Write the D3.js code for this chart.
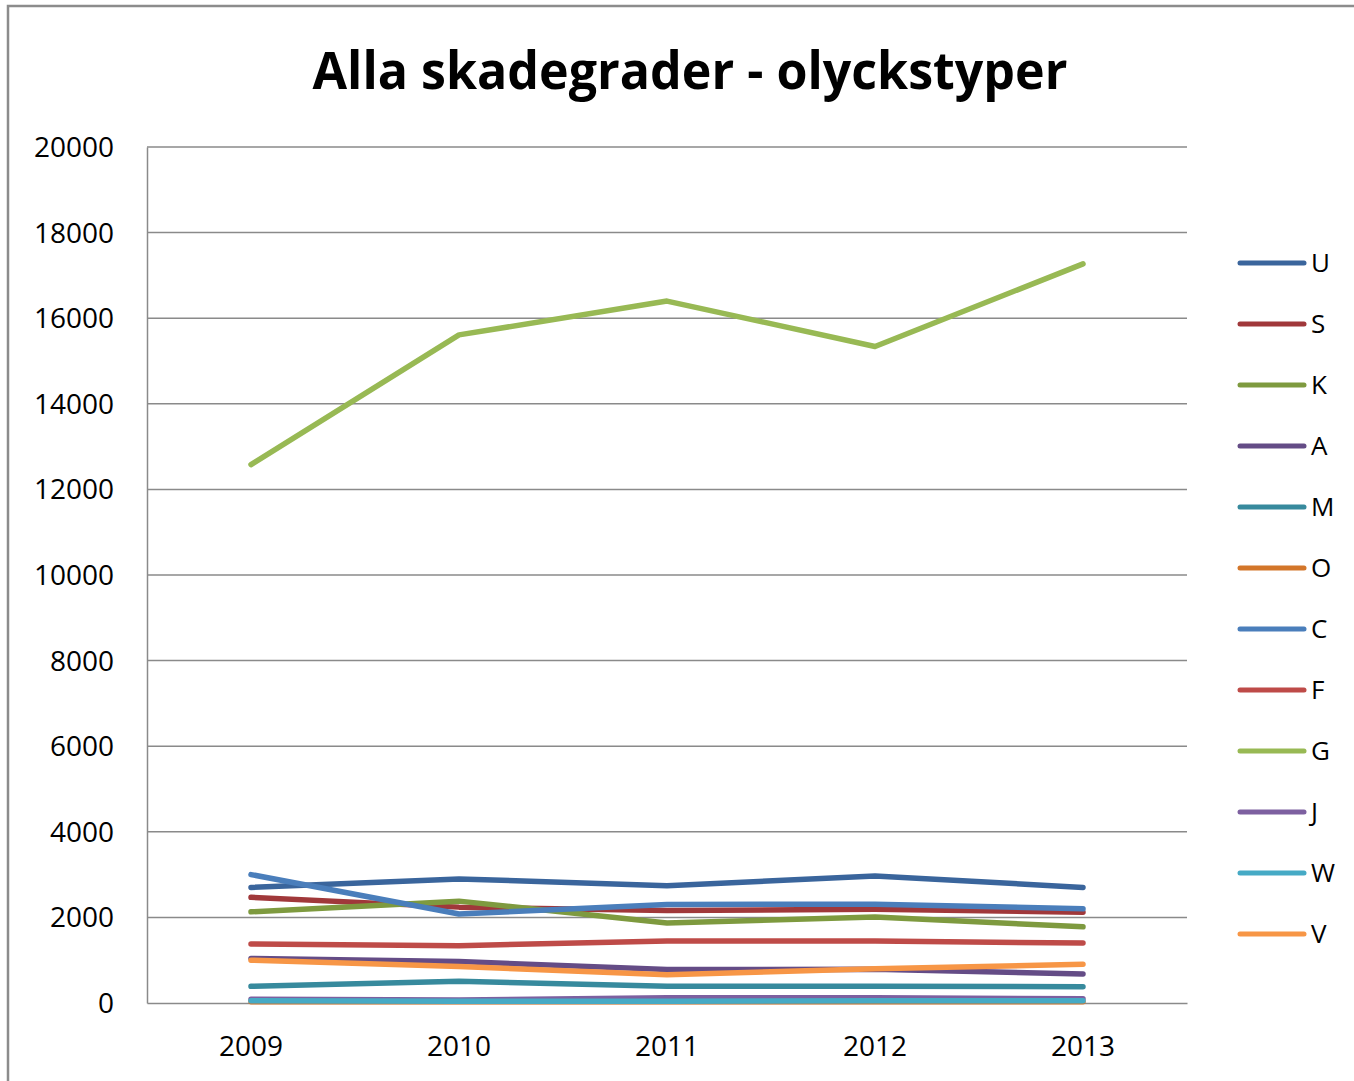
<!DOCTYPE html>
<html><head><meta charset="utf-8">
<script src="https://cdn.jsdelivr.net/npm/d3@7"></script>
<style>
html,body{margin:0;padding:0;background:#fff;}
svg{display:block;}
text{font-family:"Open Sans","Liberation Sans",sans-serif;fill:#000;}
</style></head>
<body>
<svg id="chart" width="1354" height="1081"></svg>
<script>
const title = "Alla skadegrader - olyckstyper";
const years = ["2009","2010","2011","2012","2013"];
const yTicks = [0,2000,4000,6000,8000,10000,12000,14000,16000,18000,20000];
const seriesNames = ["U","S","K","A","M","O","C","F","G","J","W","V"];
const seriesColors = ["#3A659C","#A0383A","#7E9A3F","#644C86","#378A9D","#D3762A","#4A7EBB","#BE4B48","#98B954","#7D60A0","#46AAC5","#F79646"];
const U = [2700, 2900, 2740, 2970, 2700];
const S = [2470, 2240, 2160, 2190, 2120];
const K = [2130, 2380, 1870, 2010, 1780];
const A = [1040, 970, 780, 790, 680];
const M = [390, 510, 390, 390, 380];
const O = [30, 30, 30, 30, 30];
const C = [3000, 2080, 2300, 2310, 2200];
const F = [1380, 1340, 1450, 1450, 1400];
const G = [12580, 15610, 16400, 15340, 17270];
const J = [90, 70, 120, 120, 100];
const W = [50, 40, 40, 50, 50];
const V = [1000, 850, 660, 800, 905];
const seriesValues = [U,S,K,A,M,O,C,F,G,J,W,V];

const svg = d3.select("#chart");
svg.append("rect").attr("x",0).attr("y",0).attr("width",1354).attr("height",1081).attr("fill","#fff");
svg.append("rect").attr("x",8).attr("y",6).attr("width",1370).attr("height",1100)
  .attr("fill","none").attr("stroke","#8c8c8c").attr("stroke-width",2.5);

const plot = {left:147, top:147, right:1187, bottom:1003};
const x = d3.scaleBand().domain(years).range([plot.left, plot.right]);
const y = d3.scaleLinear().domain([0,20000]).range([plot.bottom, plot.top]);

// title
const t = svg.append("text").attr("x",690).attr("y",89).attr("text-anchor","middle")
  .style("font-weight","bold").style("font-size","52px").text(title);
t.attr("textLength",755).attr("lengthAdjust","spacingAndGlyphs");

// gridlines
svg.append("g").selectAll("line").data(yTicks.filter(d=>d>0)).join("line")
  .attr("x1",plot.left).attr("x2",plot.right)
  .attr("y1",d=>y(d)).attr("y2",d=>y(d))
  .attr("stroke","#8a8a8a").attr("stroke-width",1.5);

// y axis
const yAxis = svg.append("g").attr("transform",`translate(${plot.left},0)`)
  .call(d3.axisLeft(y).tickValues(yTicks).tickSize(0).tickPadding(33).tickFormat(d3.format("d")));
yAxis.select(".domain").attr("stroke","#8a8a8a").attr("stroke-width",1.5);
yAxis.selectAll("text").style("font-size","28px").style("font-family","'Open Sans','Liberation Sans',sans-serif").attr("fill","#000").attr("dy","0.34em");

// x axis
const xAxis = svg.append("g").attr("transform",`translate(0,${plot.bottom})`)
  .call(d3.axisBottom(x).tickSize(0).tickPadding(33));
xAxis.select(".domain").attr("stroke","#8a8a8a").attr("stroke-width",1.5);
xAxis.selectAll("text").style("font-size","28px").style("font-family","'Open Sans','Liberation Sans',sans-serif").attr("fill","#000");

// lines
const line = d3.line().x((d,i)=>x(years[i])+x.bandwidth()/2).y(d=>y(d));
svg.append("g").selectAll("path").data(seriesValues).join("path")
  .attr("d",d=>line(d)).attr("fill","none")
  .attr("stroke",(d,i)=>seriesColors[i]).attr("stroke-width",5.5)
  .attr("stroke-linecap","round").attr("stroke-linejoin","round");

// legend
const leg = svg.append("g").selectAll("g").data(seriesNames).join("g")
  .attr("transform",(d,i)=>`translate(1240,${263 + i*61})`);
leg.append("line").attr("x1",0).attr("x2",64).attr("y1",0).attr("y2",0)
  .attr("stroke",(d,i)=>seriesColors[i]).attr("stroke-width",5).attr("stroke-linecap","round");
leg.append("text").attr("x",71).attr("y",0).attr("dy","0.36em")
  .style("font-size","26px").text(d=>d);
</script>
</body></html>
